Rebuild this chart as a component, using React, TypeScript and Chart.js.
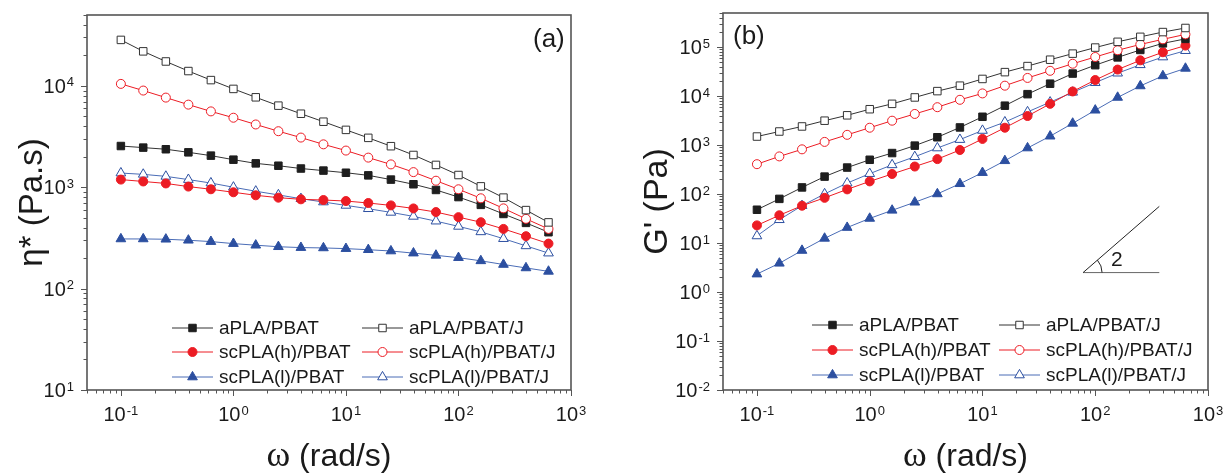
import React, { useEffect, useRef } from 'react';
import { Chart, registerables } from 'chart.js';

Chart.register(...registerables);

// ---------- data ----------
const omega = [0.1, 0.158, 0.251, 0.398, 0.631, 1, 1.58, 2.51, 3.98, 6.31, 10, 15.8, 25.1, 39.8, 63.1, 100, 158, 251, 398, 631];

const seriesLabels = ['aPLA/PBAT', 'scPLA(h)/PBAT', 'scPLA(l)/PBAT', 'aPLA/PBAT/J', 'scPLA(h)/PBAT/J', 'scPLA(l)/PBAT/J'];

// (a) complex viscosity eta* (Pa.s)
const etaAPLA = [2550, 2460, 2370, 2210, 2050, 1870, 1720, 1630, 1530, 1460, 1390, 1310, 1190, 1070, 940, 800, 670, 545, 445, 360];
const etaScH = [1190, 1140, 1090, 1015, 955, 892, 833, 789, 760, 748, 731, 699, 662, 618, 569, 507, 452, 388, 329, 278];
const etaScL = [309, 309, 307, 300, 291, 278, 268, 259, 254, 252, 248, 242, 235, 224, 213, 202, 188, 173, 160, 148];
const etaAPLAJ = [28400, 21900, 17400, 14000, 11400, 9330, 7710, 6380, 5310, 4430, 3680, 3070, 2540, 2080, 1660, 1320, 1020, 790, 595, 450];
const etaScHJ = [10460, 8990, 7660, 6530, 5600, 4850, 4160, 3570, 3090, 2650, 2300, 1960, 1680, 1410, 1160, 955, 778, 619, 488, 388];
const etaScLJ = [1380, 1340, 1280, 1190, 1100, 1000, 913, 840, 771, 715, 662, 614, 565, 516, 463, 411, 363, 311, 264, 224];

// (b) storage modulus G' (Pa)
const gAPLA = [48, 80, 137, 228, 349, 503, 690, 978, 1450, 2300, 3800, 6400, 11000, 18000, 29000, 43000, 62000, 88000, 120000, 148000];
const gScH = [23, 37, 58, 84, 125, 182, 258, 366, 519, 796, 1340, 2270, 3940, 6980, 12500, 21400, 35000, 54000, 79000, 108000];
const gScL = [2.33, 3.87, 7.07, 12.5, 20.8, 31.9, 46.7, 68.3, 101, 163, 275, 480, 875, 1525, 2790, 5170, 9440, 16200, 26000, 37000];
const gAPLAJ = [1500, 1900, 2410, 3160, 4070, 5420, 6980, 9430, 12700, 16400, 22500, 31000, 41200, 55600, 74000, 98400, 129000, 163000, 204000, 247000];
const gScHJ = [409, 589, 822, 1165, 1625, 2270, 3160, 4340, 5960, 8440, 11400, 16400, 23600, 33000, 46000, 63200, 86700, 114000, 145000, 183000];
const gScLJ = [14, 30, 58, 101, 168, 262, 396, 580, 875, 1300, 1995, 2960, 4770, 7550, 12000, 18900, 29500, 43800, 63100, 85000];

// slope-2 guide triangle in panel (b), in data units
const slopeX = [78, 370];
const slopeY0 = 2.5;
const slopeExp = 2;

// ---------- styles ----------
const FONT = '"Liberation Sans", Arial, Helvetica, sans-serif';
const SERIF = '"Liberation Serif", "Times New Roman", serif';
const BLACK = '#1e1e1e';
const BLACK_LINE = '#333333';
const RED = '#ec1c24';
const BLUE = '#2c4fa0';
const BLUE_LINE = '#4a6cb6';

type Style = { color: string; line: string; shape: 'rect' | 'circle' | 'triangle'; filled: boolean; r: number };
const styles: Style[] = [
  { color: BLACK, line: BLACK_LINE, shape: 'rect', filled: true, r: 5.3 },
  { color: RED, line: RED, shape: 'circle', filled: true, r: 4.5 },
  { color: BLUE, line: BLUE_LINE, shape: 'triangle', filled: true, r: 5.6 },
  { color: BLACK_LINE, line: BLACK_LINE, shape: 'rect', filled: false, r: 5.3 },
  { color: RED, line: RED, shape: 'circle', filled: false, r: 4.5 },
  { color: BLUE, line: BLUE_LINE, shape: 'triangle', filled: false, r: 5.6 },
];

function drawMarker(ctx: CanvasRenderingContext2D, s: Style, x: number, y: number) {
  const r = s.r;
  ctx.beginPath();
  if (s.shape === 'rect') {
    const h = r * Math.SQRT1_2;
    ctx.rect(x - h, y - h, 2 * h, 2 * h);
  } else if (s.shape === 'circle') {
    ctx.arc(x, y, r, 0, Math.PI * 2);
  } else {
    const a = (2 * Math.PI) / 3;
    ctx.moveTo(x, y - r);
    ctx.lineTo(x + r * Math.sin(a), y - r * Math.cos(a));
    ctx.lineTo(x + r * Math.sin(2 * a), y - r * Math.cos(2 * a));
    ctx.closePath();
  }
  ctx.fillStyle = s.filled ? s.color : '#ffffff';
  ctx.fill();
  ctx.strokeStyle = s.color;
  ctx.lineWidth = 1;
  ctx.stroke();
}

type PanelCfg = {
  values: number[][];
  yMin: number;
  yMax: number;
  yTitle: { text: string; font: string }[];
  yTitleX: number;
  tag: string;
  tagX: number;
  tagY: number;
  padding: { left: number; right: number; top: number; bottom: number };
  legend: { cols: number[]; rows: number[] };
  slope?: boolean;
};

function drawPow(ctx: CanvasRenderingContext2D, exp: number, x: number, y: number, align: 'right' | 'center') {
  const base = '10';
  const sup = String(exp);
  ctx.font = `20px ${FONT}`;
  const bw = ctx.measureText(base).width;
  ctx.font = `13px ${FONT}`;
  const sw = ctx.measureText(sup).width;
  const total = bw + sw + 1;
  const x0 = align === 'right' ? x - total : x - total / 2;
  ctx.textAlign = 'left';
  ctx.textBaseline = 'alphabetic';
  ctx.fillStyle = '#1a1a1a';
  ctx.font = `20px ${FONT}`;
  ctx.fillText(base, x0, y);
  ctx.font = `13px ${FONT}`;
  ctx.fillText(sup, x0 + bw + 1, y - 6.5);
}

function makePlugin(cfg: PanelCfg) {
  return {
    id: 'decor',
    afterDraw(chart: any) {
      const ctx: CanvasRenderingContext2D = chart.ctx;
      const ca = chart.chartArea;
      const xs = chart.scales.x;
      const ys = chart.scales.y;
      ctx.save();

      // ticks
      ctx.strokeStyle = '#555';
      ctx.lineWidth = 1;
      for (let e = -3; e <= 6; e++) {
        for (let m = 1; m <= 9; m++) {
          const v = parseFloat((m * Math.pow(10, e)).toPrecision(6));
          const len = m === 1 ? 6 : 3.5;
          if (v >= xs.min - 1e-12 && v <= xs.max * 1.0000001) {
            const px = Math.round(xs.getPixelForValue(v)) + 0.5;
            ctx.beginPath();
            ctx.moveTo(px, ca.bottom);
            ctx.lineTo(px, ca.bottom + len);
            ctx.stroke();
          }
          if (v >= ys.min * 0.9999999 && v <= ys.max * 1.0000001) {
            const py = Math.round(ys.getPixelForValue(v)) + 0.5;
            ctx.beginPath();
            ctx.moveTo(ca.left, py);
            ctx.lineTo(ca.left - len, py);
            ctx.stroke();
          }
        }
      }

      // frame
      ctx.strokeStyle = '#555';
      ctx.lineWidth = 1.6;
      ctx.strokeRect(ca.left, ca.top, ca.right - ca.left, ca.bottom - ca.top);

      // tick labels
      for (let e = -3; e <= 6; e++) {
        const v = Math.pow(10, e);
        if (v >= xs.min * 0.999 && v <= xs.max * 1.001) {
          drawPow(ctx, e, xs.getPixelForValue(v), ca.bottom + 31, 'center');
        }
        if (v >= ys.min * 0.999 && v <= ys.max * 1.001) {
          drawPow(ctx, e, ca.left - 13, ys.getPixelForValue(v) + 7, 'right');
        }
      }

      // x title
      ctx.fillStyle = '#1a1a1a';
      ctx.textBaseline = 'alphabetic';
      ctx.textAlign = 'left';
      const xParts = [
        { text: 'ω', font: `36px ${SERIF}` },
        { text: ' (rad/s)', font: `32px ${FONT}` },
      ];
      let tw = 0;
      for (const p of xParts) { ctx.font = p.font; tw += ctx.measureText(p.text).width; }
      let cx = (ca.left + ca.right) / 2 - tw / 2;
      for (const p of xParts) { ctx.font = p.font; ctx.fillText(p.text, cx, 466); cx += ctx.measureText(p.text).width; }

      // y title (rotated)
      ctx.save();
      ctx.translate(cfg.yTitleX, (ca.top + ca.bottom) / 2);
      ctx.rotate(-Math.PI / 2);
      tw = 0;
      for (const p of cfg.yTitle) { ctx.font = p.font; tw += ctx.measureText(p.text).width; }
      cx = -tw / 2;
      for (const p of cfg.yTitle) { ctx.font = p.font; ctx.fillText(p.text, cx, 11); cx += ctx.measureText(p.text).width; }
      ctx.restore();

      // panel tag
      ctx.font = `26px ${FONT}`;
      ctx.fillStyle = '#1a1a1a';
      ctx.fillText(cfg.tag, cfg.tagX, cfg.tagY);

      // legend
      ctx.font = `19px ${FONT}`;
      ctx.textBaseline = 'middle';
      for (let i = 0; i < 6; i++) {
        const col = Math.floor(i / 3);
        const row = i % 3;
        const x0 = cfg.legend.cols[col];
        const y0 = cfg.legend.rows[row];
        const s = styles[i];
        ctx.strokeStyle = s.line;
        ctx.lineWidth = 1;
        ctx.beginPath();
        ctx.moveTo(x0, y0);
        ctx.lineTo(x0 + 41, y0);
        ctx.stroke();
        drawMarker(ctx, s, x0 + 20.5, y0);
        ctx.fillStyle = '#1a1a1a';
        ctx.fillText(seriesLabels[i], x0 + 47, y0 + 1);
      }

      // slope guide
      if (cfg.slope) {
        const xa = xs.getPixelForValue(slopeX[0]);
        const xb = xs.getPixelForValue(slopeX[1]);
        const ya = ys.getPixelForValue(slopeY0);
        const yb = ys.getPixelForValue(slopeY0 * Math.pow(slopeX[1] / slopeX[0], slopeExp));
        ctx.lineWidth = 1;
        ctx.strokeStyle = '#666';
        ctx.beginPath();
        ctx.moveTo(xa, ya);
        ctx.lineTo(xb, ya);
        ctx.stroke();
        ctx.strokeStyle = '#222';
        ctx.beginPath();
        ctx.moveTo(xa, ya);
        ctx.lineTo(xb, yb);
        ctx.stroke();
        const ang = Math.atan2(yb - ya, xb - xa);
        ctx.beginPath();
        ctx.arc(xa, ya, 19, ang, 0);
        ctx.stroke();
        ctx.font = `21px ${FONT}`;
        ctx.textBaseline = 'alphabetic';
        ctx.fillStyle = '#1a1a1a';
        ctx.fillText('2', xa + 28, ya - 7);
      }

      ctx.restore();
    },
  };
}

function Panel({ cfg, left, width }: { cfg: PanelCfg; left: number; width: number }) {
  const ref = useRef<HTMLCanvasElement>(null);
  useEffect(() => {
    const order = [3, 4, 0, 1, 5, 2];
    const datasets = order.map((i) => {
      const s = styles[i];
      return {
        label: seriesLabels[i],
        data: omega.map((w, k) => ({ x: w, y: cfg.values[i][k] })),
        borderColor: s.line,
        borderWidth: 1,
        backgroundColor: s.filled ? s.color : '#ffffff',
        pointStyle: s.shape,
        pointRadius: s.r,
        pointBorderWidth: 1,
        pointBorderColor: s.color,
        pointBackgroundColor: s.filled ? s.color : '#ffffff',
        tension: 0,
        fill: false,
      };
    });
    const chart = new Chart(ref.current as HTMLCanvasElement, {
      type: 'line',
      data: { datasets } as any,
      options: {
        animation: false,
        responsive: false,
        devicePixelRatio: 1,
        events: [],
        layout: { padding: cfg.padding, autoPadding: false } as any,
        plugins: { legend: { display: false }, tooltip: { enabled: false } },
        scales: {
          x: { type: 'logarithmic', min: 0.05, max: 1000, display: false },
          y: { type: 'logarithmic', min: cfg.yMin, max: cfg.yMax, display: false },
        },
      } as any,
      plugins: [makePlugin(cfg) as any],
    });
    return () => chart.destroy();
  }, []);
  return (
    <canvas
      ref={ref}
      width={width}
      height={474}
      style={{ position: 'absolute', left, top: 0, width, height: 474 }}
    />
  );
}

const cfgA: PanelCfg = {
  values: [etaAPLA, etaScH, etaScL, etaAPLAJ, etaScHJ, etaScLJ],
  yMin: 10,
  yMax: 50000,
  yTitle: [
    { text: 'η', font: `33px ${FONT}` },
    { text: '* (Pa.s)', font: `33px ${FONT}` },
  ],
  yTitleX: 31,
  tag: '(a)',
  tagX: 533,
  tagY: 47,
  padding: { left: 87, right: 43, top: 15, bottom: 84 },
  legend: { cols: [172, 362], rows: [328, 352, 377] },
};

const cfgB: PanelCfg = {
  values: [gAPLA, gScH, gScL, gAPLAJ, gScHJ, gScLJ],
  yMin: 0.01,
  yMax: 500000,
  yTitle: [{ text: "G' (Pa)", font: `34px ${FONT}` }],
  yTitleX: 42,
  tag: '(b)',
  tagX: 119,
  tagY: 44,
  padding: { left: 109, right: 21, top: 13, bottom: 84 },
  legend: { cols: [198, 385], rows: [325, 350, 375] },
  slope: true,
};

export default function App() {
  return (
    <div style={{ position: 'fixed', left: 0, top: 0, width: 1229, height: 474, background: '#ffffff' }}>
      <Panel cfg={cfgA} left={0} width={614} />
      <Panel cfg={cfgB} left={614} width={615} />
    </div>
  );
}
